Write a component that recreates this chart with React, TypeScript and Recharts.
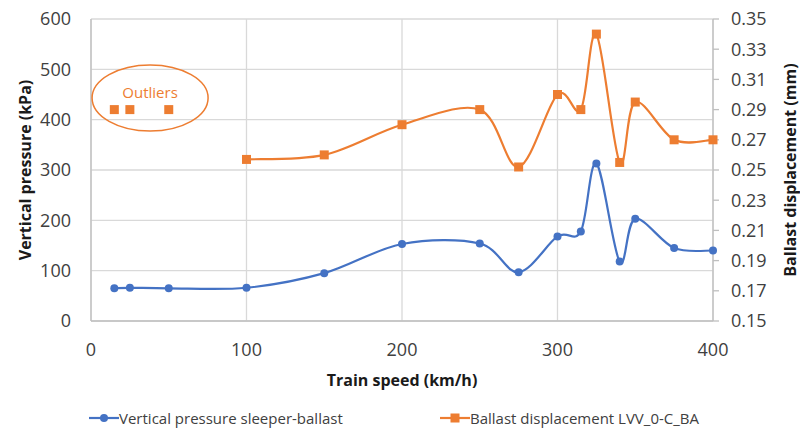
import React from 'react';
import { LineChart, Line, XAxis, YAxis, CartesianGrid, ReferenceDot, Label } from 'recharts';

const BLUE = '#4472C4';
const ORANGE = '#ED7D31';
const GRID = '#D9D9D9';
const AXIS = '#BFBFBF';
const TICK = '#404040';
const FONT = '"Open Sans", sans-serif';

const speeds = [15, 25, 50, 100, 150, 200, 250, 275, 300, 315, 325, 340, 350, 375, 400];
const pressure = [65, 66, 65, 66, 95, 153, 154, 97, 168, 178, 313, 118, 203, 145, 140];
const displacement = [null, null, null, 0.257, 0.26, 0.28, 0.29, 0.252, 0.3, 0.29, 0.34, 0.255, 0.295, 0.27, 0.27];
const outliers = [0.29, 0.29, 0.29, null, null, null, null, null, null, null, null, null, null, null, null];

const xTicks = [0, 100, 200, 300, 400];
const leftTicks = [0, 100, 200, 300, 400, 500, 600];
const rightTicks = [0.15, 0.17, 0.19, 0.21, 0.23, 0.25, 0.27, 0.29, 0.31, 0.33, 0.35];

const data = speeds.map((speed, i) => ({
  speed,
  pressure: pressure[i],
  disp: displacement[i],
  outlier: outliers[i],
}));

// Excel-like smoothed line (Catmull-Rom through the points)
const excelCurve = (context: any) => {
  let pts: number[][] = [];
  return {
    areaStart() {},
    areaEnd() {},
    lineStart() {
      pts = [];
    },
    point(x: number, y: number) {
      pts.push([+x, +y]);
    },
    lineEnd() {
      if (!pts.length) return;
      context.moveTo(pts[0][0], pts[0][1]);
      for (let i = 0; i < pts.length - 1; i++) {
        const p0 = pts[i - 1] || pts[i];
        const p1 = pts[i];
        const p2 = pts[i + 1];
        const p3 = pts[i + 2] || p2;
        context.bezierCurveTo(
          p1[0] + (p2[0] - p0[0]) / 6,
          p1[1] + (p2[1] - p0[1]) / 6,
          p2[0] - (p3[0] - p1[0]) / 6,
          p2[1] - (p3[1] - p1[1]) / 6,
          p2[0],
          p2[1]
        );
      }
    },
  };
};

const SquareDot = (props: any) => {
  const { cx, cy, index } = props;
  if (cx == null || cy == null) return <g key={`sq-${index}`} />;
  return <rect key={`sq-${index}`} x={cx - 4.5} y={cy - 4.5} width={9} height={9} fill={ORANGE} />;
};

const OutlierMark = (props: any) => {
  const { cx, cy } = props;
  return (
    <g>
      <ellipse cx={cx} cy={cy} rx={58} ry={33} fill="none" stroke={ORANGE} strokeWidth={1.5} />
      <text x={cx} y={cy - 6} textAnchor="middle" dominantBaseline="central" fill={ORANGE} fontSize={15} fontFamily={FONT}>
        Outliers
      </text>
    </g>
  );
};

const tickStyle = { fill: TICK, fontSize: 18, fontFamily: FONT };
const titleStyle = { fill: '#1a1a1a', fontSize: 16, fontWeight: 700, fontFamily: FONT };

const App: React.FC = () => {
  return (
    <div style={{ position: 'absolute', left: 0, top: 0, width: 800, height: 430, background: '#fff', fontFamily: FONT }}>
      <LineChart width={800} height={430} data={data} margin={{ top: 19, right: 0, bottom: 0, left: 0 }}>
        <CartesianGrid yAxisId="left" stroke={GRID} strokeWidth={1.3} />
        <XAxis
          dataKey="speed"
          type="number"
          domain={[0, 400]}
          ticks={xTicks}
          interval={0}
          tickLine={false}
          tickSize={0}
          tickMargin={22}
          axisLine={{ stroke: AXIS, strokeWidth: 1.3 }}
          tick={tickStyle}
          height={109}
        >
          <Label value="Train speed (km/h)" position="center" dy={4.5} style={titleStyle} />
        </XAxis>
        <YAxis
          yAxisId="left"
          domain={[0, 600]}
          ticks={leftTicks}
          interval={0}
          tickLine={false}
          tickSize={0}
          tickMargin={20}
          axisLine={{ stroke: AXIS, strokeWidth: 1.3 }}
          tick={tickStyle}
          width={91}
        >
          <Label value="Vertical pressure (kPa)" position="center" angle={-90} dx={-20.5} style={titleStyle} />
        </YAxis>
        <YAxis
          yAxisId="right"
          orientation="right"
          domain={[0.15, 0.35]}
          ticks={rightTicks}
          interval={0}
          tickSize={6}
          tickMargin={12}
          tickLine={{ stroke: AXIS, strokeWidth: 1.3 }}
          axisLine={{ stroke: AXIS, strokeWidth: 1.3 }}
          tick={tickStyle}
          tickFormatter={(v: number) => v.toFixed(2)}
          width={87}
        >
          <Label value="Ballast displacement (mm)" position="center" angle={-90} dx={33.5} style={titleStyle} />
        </YAxis>
        <ReferenceDot x={38} y={443} yAxisId="left" r={0} shape={OutlierMark} />
        <Line
          yAxisId="left"
          dataKey="pressure"
          type={excelCurve as any}
          stroke={BLUE}
          strokeWidth={2.2}
          dot={{ r: 4, fill: BLUE, stroke: BLUE, strokeWidth: 0 }}
          isAnimationActive={false}
        />
        <Line
          yAxisId="right"
          dataKey="disp"
          type={excelCurve as any}
          stroke={ORANGE}
          strokeWidth={2.2}
          dot={SquareDot}
          isAnimationActive={false}
        />
        <Line
          yAxisId="right"
          dataKey="outlier"
          stroke="none"
          dot={SquareDot}
          isAnimationActive={false}
        />
      </LineChart>
      <div style={{ position: 'absolute', top: 407, left: 89, display: 'flex', alignItems: 'center', fontSize: 15, color: TICK, whiteSpace: 'nowrap' }}>
        <svg width={30} height={22}>
          <line x1={0} y1={11} x2={30} y2={11} stroke={BLUE} strokeWidth={2.2} />
          <circle cx={15} cy={11} r={4} fill={BLUE} />
        </svg>
        <span>Vertical pressure sleeper-ballast</span>
      </div>
      <div style={{ position: 'absolute', top: 407, left: 440, display: 'flex', alignItems: 'center', fontSize: 15, color: TICK, whiteSpace: 'nowrap' }}>
        <svg width={30} height={22}>
          <line x1={0} y1={11} x2={30} y2={11} stroke={ORANGE} strokeWidth={2.2} />
          <rect x={10.5} y={6.5} width={9} height={9} fill={ORANGE} />
        </svg>
        <span>Ballast displacement LVV_0-C_BA</span>
      </div>
    </div>
  );
};

export default App;
